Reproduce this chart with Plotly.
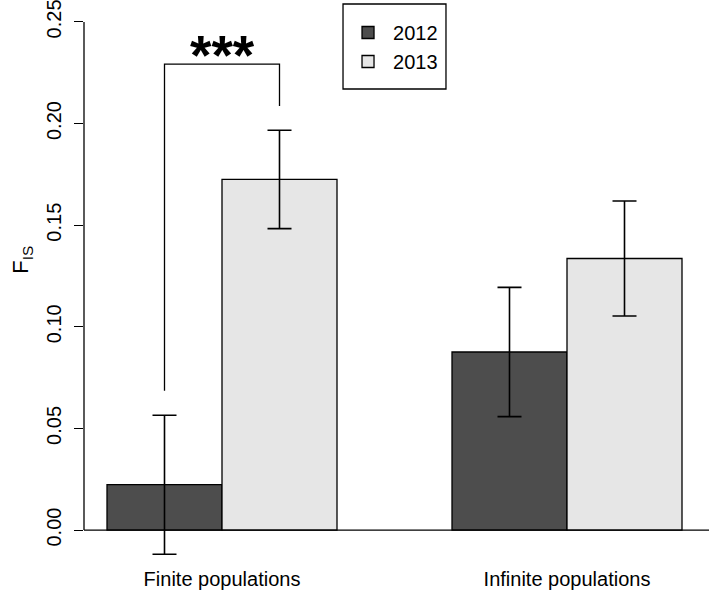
import plotly.graph_objects as go

categories = ["Finite populations", "Infinite populations"]
years = ["2012", "2013"]
fis_2012 = [0.0223, 0.0876]
fis_2013 = [0.1725, 0.1336]
err_2012 = [0.0342, 0.0318]
err_2013 = [0.0242, 0.0283]
colors = ["#4d4d4d", "#e6e6e6"]

BARGAP = 1 / 3
FONT = "Liberation Sans, Arial, sans-serif"

fig = go.Figure()
for name, vals, errs, col in zip(years, [fis_2012, fis_2013], [err_2012, err_2013], colors):
    fig.add_trace(go.Bar(
        x=categories, y=vals, name=name,
        marker=dict(color=col, line=dict(color="black", width=1.3)),
        error_y=dict(type="data", array=errs, visible=True, color="black",
                     thickness=1.6, width=12),
    ))

# significance bracket between the two Finite bars
off = (1 - BARGAP) / 4
gap = 0.012
y_left = fis_2012[0] + err_2012[0] + gap
y_right = fis_2013[0] + err_2013[0] + gap
y_top = y_right + 0.0205
fig.add_shape(type="path", xref="x", yref="y",
              path=f"M {-off},{y_left} L {-off},{y_top} L {off},{y_top} L {off},{y_right}",
              line=dict(color="black", width=1.3))
fig.add_annotation(x=0, y=y_top + 0.0045, xref="x", yref="y", text="<b>***</b>",
                   showarrow=False, yanchor="middle",
                   font=dict(family=FONT, size=55, color="black"))

# y axis line from 0 to 0.25 and baseline at 0
fig.add_shape(type="line", xref="paper", yref="y", x0=0, x1=0, y0=0, y1=0.25,
              line=dict(color="black", width=1.3))
fig.add_shape(type="line", xref="paper", yref="y", x0=0, x1=1.01, y0=0, y1=0,
              line=dict(color="black", width=1.3))

# legend frame
fig.add_shape(type="rect", xref="paper", yref="paper",
              x0=0.4171, x1=0.5829, y0=0.8425, y1=0.9929,
              line=dict(color="black", width=1.3), fillcolor="white", layer="below")

fig.add_annotation(xref="paper", yref="y", x=-0.1, y=0.133, xanchor="center",
                   text="F<sub>IS</sub>", textangle=-90, showarrow=False,
                   font=dict(family=FONT, size=22, color="black"))

fig.update_layout(
    width=709, height=592,
    margin=dict(l=84, r=4, t=0, b=27),
    paper_bgcolor="white", plot_bgcolor="white",
    barmode="group", bargap=BARGAP, bargroupgap=0,
    font=dict(family=FONT, size=20, color="black"),
    showlegend=True,
    legend=dict(x=0.4171, y=0.977, xanchor="left", yanchor="top",
                borderwidth=0, bgcolor="rgba(0,0,0,0)",
                itemwidth=40,
                font=dict(family=FONT, size=20, color="black")),
    xaxis=dict(range=[-0.4, 1.4], showline=False, ticks="", showgrid=False,
               zeroline=False, automargin=False,
               tickfont=dict(family=FONT, size=20, color="black")),
    yaxis=dict(range=[-0.0172, 0.2608], dtick=0.05, tick0=0, tickformat=".2f",
               ticks="outside", ticklen=9, tickwidth=1.3, tickcolor="black",
               tickangle=-90, showline=False, showgrid=False, zeroline=False,
               automargin=False, ticklabelstandoff=5, ticklabeloverflow="allow",
               tickfont=dict(family=FONT, size=20, color="black")),
)

fig.write_html("out.html", config={"displayModeBar": False},
               post_script="document.body.style.margin='0';document.body.style.padding='0';")
